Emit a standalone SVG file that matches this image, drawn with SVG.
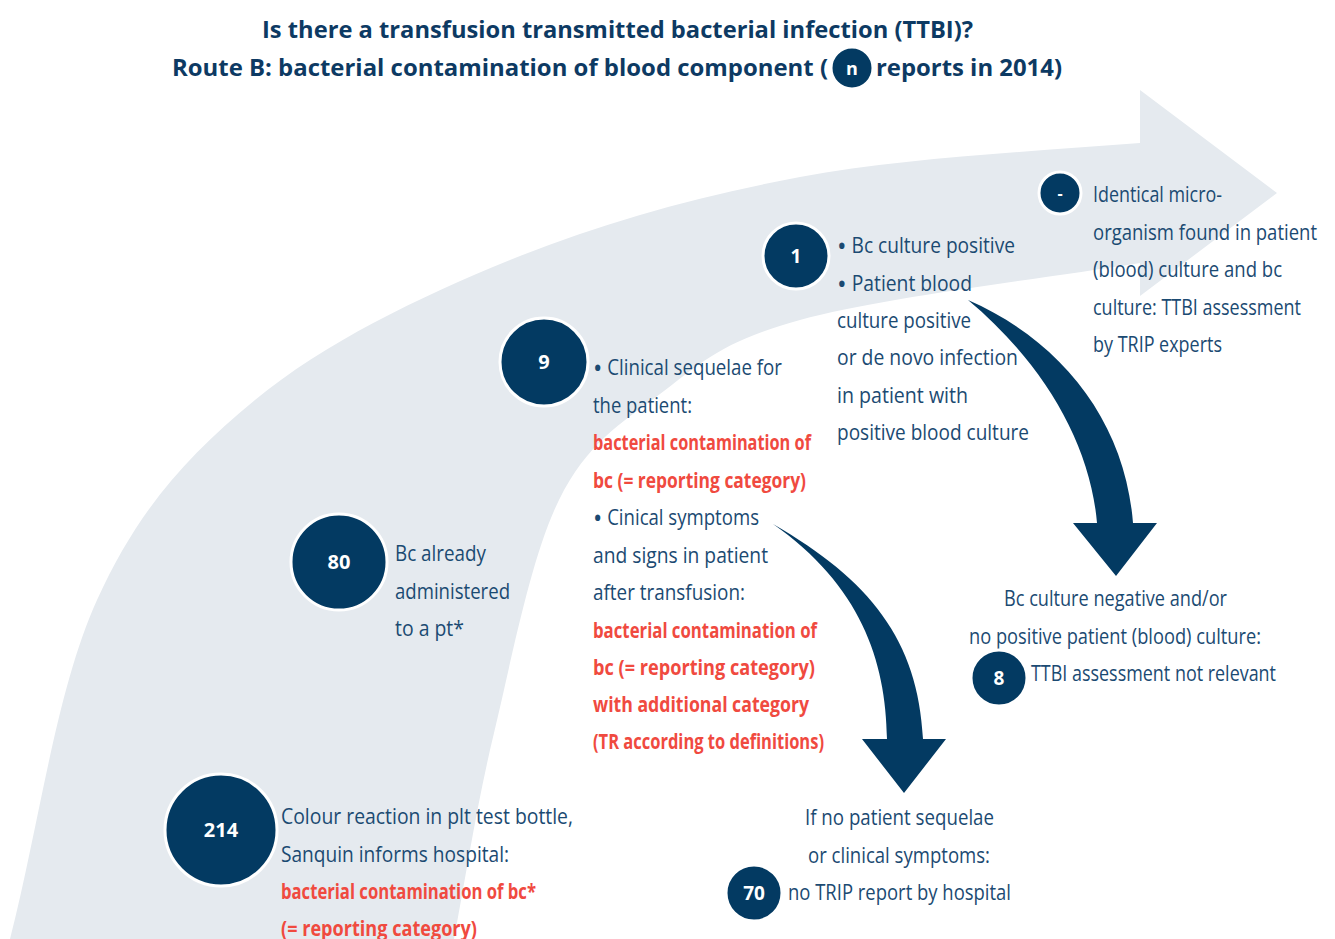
<svg xmlns="http://www.w3.org/2000/svg" width="1335" height="939" viewBox="0 0 1335 939">
<style>
.t{font-family:"Open Sans","Liberation Sans",sans-serif;font-size:21px;fill:#1b4a72;}
.r{font-family:"Open Sans","Liberation Sans",sans-serif;font-size:21px;font-weight:700;fill:#f04a3f;}
.h{font-family:"Open Sans","Liberation Sans",sans-serif;font-size:24px;font-weight:700;fill:#0d3a63;}
.c{fill:#033a62;stroke:#ffffff;stroke-width:3;}
.n{font-family:"Open Sans","Liberation Sans",sans-serif;font-weight:700;fill:#ffffff;text-anchor:middle;}
.a{fill:#033a62;}
.b{font-size:28px;}
</style>
<rect width="1335" height="939" fill="#ffffff"/>
<g id="background-arrow">
<path fill="#e5eaef" d="M10 939 C39 826 56 690 97 600 C138 510 186 457 255 400 C324 343 419 297 510 260 C601 223 695 197 800 177 C905 157.5 1027 152 1140 143 L1140 90 L1277 193 L1140 296 L1140 263 C1040 279 880 298 800 320 C720 342 700 364 660 394 C620 424 587 443.5 559 500 C531 556.5 511.5 660 494 733 C476.5 806 467 870 454 939 Z"/>
</g>
<g id="title">
<text class="h" x="262" y="38" textLength="711" lengthAdjust="spacingAndGlyphs">Is there a transfusion transmitted bacterial infection (TTBI)?</text>
<text class="h" x="172" y="76" textLength="656" lengthAdjust="spacingAndGlyphs">Route B: bacterial contamination of blood component (</text>
<circle class="c" cx="852" cy="68" r="21"/>
<text class="n" x="852" y="75" font-size="18">n</text>
<text class="h" x="876" y="76" textLength="186" lengthAdjust="spacingAndGlyphs">reports in 2014)</text>
</g>
<g id="connectors">
<path class="a" d="M968 300 C1060 340 1125 420 1133 523 L1157 523 L1116 576 L1073 523 L1097 523 C1090 440 1040 360 968 300 Z"/>
<path class="a" d="M773 524 C870 580 918 640 923 739 L946 739 L904 793 L862 739 L887 739 C886 660 860 585 773 524 Z"/>
</g>
<g id="node-214">
<circle class="c" cx="221" cy="830" r="56"/>
<text class="n" x="221" y="837" font-size="20">214</text>
<text class="t" x="281" y="824" textLength="292" lengthAdjust="spacingAndGlyphs">Colour reaction in plt test bottle,</text>
<text class="t" x="281" y="862" textLength="228" lengthAdjust="spacingAndGlyphs">Sanquin informs hospital:</text>
<text class="r" x="281" y="899" textLength="255" lengthAdjust="spacingAndGlyphs">bacterial contamination of bc*</text>
<text class="r" x="281" y="936" textLength="196" lengthAdjust="spacingAndGlyphs">(= reporting category)</text>
</g>
<g id="node-80">
<circle class="c" cx="339" cy="562" r="48"/>
<text class="n" x="339" y="569" font-size="20">80</text>
<text class="t" x="395" y="561" textLength="91" lengthAdjust="spacingAndGlyphs">Bc already</text>
<text class="t" x="395" y="599" textLength="115" lengthAdjust="spacingAndGlyphs">administered</text>
<text class="t" x="395" y="636" textLength="69" lengthAdjust="spacingAndGlyphs">to a pt*</text>
</g>
<g id="node-9">
<circle class="c" cx="544" cy="362" r="44"/>
<text class="n" x="544" y="369" font-size="20">9</text>
<text class="t" x="593" y="375" textLength="189" lengthAdjust="spacingAndGlyphs"><tspan class="b" dy="3">•</tspan><tspan dy="-3"> Clinical sequelae for</tspan></text>
<text class="t" x="593" y="413" textLength="99" lengthAdjust="spacingAndGlyphs">the patient:</text>
<text class="r" x="593" y="450" textLength="218" lengthAdjust="spacingAndGlyphs">bacterial contamination of</text>
<text class="r" x="593" y="488" textLength="213" lengthAdjust="spacingAndGlyphs">bc (= reporting category)</text>
<text class="t" x="593" y="525" textLength="166" lengthAdjust="spacingAndGlyphs"><tspan class="b" dy="3">•</tspan><tspan dy="-3"> Cinical symptoms</tspan></text>
<text class="t" x="593" y="563" textLength="175" lengthAdjust="spacingAndGlyphs">and signs in patient</text>
<text class="t" x="593" y="600" textLength="152" lengthAdjust="spacingAndGlyphs">after transfusion:</text>
<text class="r" x="593" y="638" textLength="224" lengthAdjust="spacingAndGlyphs">bacterial contamination of</text>
<text class="r" x="593" y="675" textLength="222" lengthAdjust="spacingAndGlyphs">bc (= reporting category)</text>
<text class="r" x="593" y="712" textLength="216" lengthAdjust="spacingAndGlyphs">with additional category</text>
<text class="r" x="593" y="749" textLength="231" lengthAdjust="spacingAndGlyphs">(TR according to definitions)</text>
</g>
<g id="node-1">
<circle class="c" cx="796" cy="256" r="33"/>
<text class="n" x="796" y="263" font-size="19">1</text>
<text class="t" x="837" y="253" textLength="178" lengthAdjust="spacingAndGlyphs"><tspan class="b" dy="3">•</tspan><tspan dy="-3"> Bc culture positive</tspan></text>
<text class="t" x="837" y="291" textLength="135" lengthAdjust="spacingAndGlyphs"><tspan class="b" dy="3">•</tspan><tspan dy="-3"> Patient blood</tspan></text>
<text class="t" x="837" y="328" textLength="134" lengthAdjust="spacingAndGlyphs">culture positive</text>
<text class="t" x="837" y="365" textLength="181" lengthAdjust="spacingAndGlyphs">or de novo infection</text>
<text class="t" x="837" y="403" textLength="131" lengthAdjust="spacingAndGlyphs">in patient with</text>
<text class="t" x="837" y="440" textLength="192" lengthAdjust="spacingAndGlyphs">positive blood culture</text>
</g>
<g id="node-dash">
<circle class="c" cx="1060" cy="193" r="21"/>
<text class="n" x="1060" y="199" font-size="16">-</text>
<text class="t" x="1093" y="202" textLength="129" lengthAdjust="spacingAndGlyphs">Identical micro-</text>
<text class="t" x="1093" y="240" textLength="224" lengthAdjust="spacingAndGlyphs">organism found in patient</text>
<text class="t" x="1093" y="277" textLength="189" lengthAdjust="spacingAndGlyphs">(blood) culture and bc</text>
<text class="t" x="1093" y="315" textLength="208" lengthAdjust="spacingAndGlyphs">culture: TTBI assessment</text>
<text class="t" x="1093" y="352" textLength="129" lengthAdjust="spacingAndGlyphs">by TRIP experts</text>
</g>
<g id="node-8">
<text class="t" x="1004" y="606" textLength="223" lengthAdjust="spacingAndGlyphs">Bc culture negative and/or</text>
<text class="t" x="969" y="644" textLength="292" lengthAdjust="spacingAndGlyphs">no positive patient (blood) culture:</text>
<circle class="c" cx="999" cy="678" r="28"/>
<text class="n" x="999" y="685" font-size="19">8</text>
<text class="t" x="1031" y="681" textLength="245" lengthAdjust="spacingAndGlyphs">TTBI assessment not relevant</text>
</g>
<g id="node-70">
<text class="t" x="805" y="825" textLength="189" lengthAdjust="spacingAndGlyphs">If no patient sequelae</text>
<text class="t" x="808" y="863" textLength="182" lengthAdjust="spacingAndGlyphs">or clinical symptoms:</text>
<circle class="c" cx="754" cy="893" r="28"/>
<text class="n" x="754" y="900" font-size="19">70</text>
<text class="t" x="788" y="900" textLength="223" lengthAdjust="spacingAndGlyphs">no TRIP report by hospital</text>
</g>
</svg>
